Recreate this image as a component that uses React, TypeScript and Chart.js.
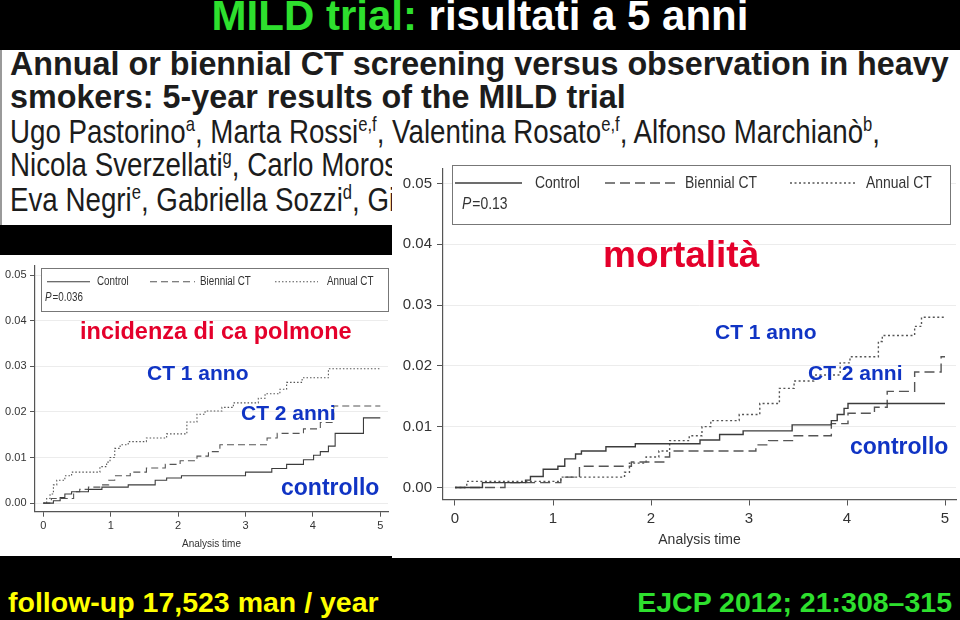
import React, { useEffect, useRef } from "react";
import { Chart, registerables } from "chart.js";

Chart.register(...registerables);

type Pt = [number, number];

// ---------- data ----------
const SERIES = ["Control", "Biennial CT", "Annual CT"];
const X_TICKS = [0, 1, 2, 3, 4, 5];
const Y_TICKS = [0, 0.01, 0.02, 0.03, 0.04, 0.05];
const X_TITLE = "Analysis time";

// lung cancer incidence (left panel)
const incidenceControl: Pt[] = [
  [0, 0], [0.15, 0.0005], [0.25, 0.0012], [0.32, 0.002], [0.42, 0.0025], [0.67, 0.003],
  [0.87, 0.0035], [1.26, 0.004], [1.66, 0.005], [1.83, 0.0055], [2.05, 0.006], [3.0, 0.0068],
  [3.39, 0.0076], [3.61, 0.0085], [3.86, 0.0095], [4.01, 0.0105], [4.11, 0.0113], [4.23, 0.0125],
  [4.33, 0.0153], [4.75, 0.0187], [5, 0.0187],
];
const incidenceBiennial: Pt[] = [
  [0, 0], [0.12, 0.001], [0.45, 0.0025], [0.54, 0.003], [0.67, 0.0035], [0.87, 0.004],
  [0.97, 0.005], [1.06, 0.006], [1.29, 0.0068], [1.53, 0.0077], [1.81, 0.0085], [2.03, 0.0093],
  [2.28, 0.0103], [2.45, 0.0113], [2.62, 0.0128], [3.32, 0.0143], [3.47, 0.0153], [3.86, 0.0163],
  [4.11, 0.0177], [4.31, 0.0213], [5, 0.0213],
];
const incidenceAnnual: Pt[] = [
  [0, 0], [0.05, 0.001], [0.1, 0.002], [0.15, 0.004], [0.2, 0.005], [0.32, 0.006], [0.42, 0.0068],
  [0.84, 0.008], [0.94, 0.009], [0.99, 0.01], [1.06, 0.012], [1.14, 0.0128], [1.26, 0.0135],
  [1.53, 0.0143], [1.83, 0.0152], [2.13, 0.0178], [2.28, 0.0195], [2.4, 0.0202], [2.65, 0.021],
  [2.82, 0.022], [3.19, 0.023], [3.29, 0.024], [3.51, 0.025], [3.61, 0.0265], [3.84, 0.0275],
  [4.23, 0.0295], [5, 0.0295],
];
const INCIDENCE_P = "0.036";

// lung cancer mortality (right panel)
const mortalityControl: Pt[] = [
  [0, 0], [0.28, 0.0008], [0.72, 0.0012], [0.77, 0.0018], [0.9, 0.003], [1.05, 0.0035],
  [1.12, 0.0047], [1.23, 0.0055], [1.29, 0.006], [1.54, 0.0067], [1.84, 0.0072], [2.5, 0.0078],
  [2.7, 0.0087], [2.94, 0.0093], [3.44, 0.0103], [3.84, 0.011], [3.9, 0.012], [3.97, 0.013],
  [4.01, 0.0138], [5, 0.0138],
];
const mortalityBiennial: Pt[] = [
  [0, 0], [0.51, 0.0008], [1.08, 0.0017], [1.27, 0.0035], [1.8, 0.0042], [2.13, 0.005],
  [2.19, 0.006], [3.07, 0.007], [3.2, 0.0077], [3.46, 0.0085], [3.84, 0.0105], [4.01, 0.0122],
  [4.28, 0.0132], [4.41, 0.0158], [4.69, 0.019], [4.96, 0.0215], [5, 0.0215],
];
const mortalityAnnual: Pt[] = [
  [0, 0], [0.12, 0.001], [1.08, 0.0017], [1.73, 0.0025], [1.78, 0.004], [1.95, 0.005],
  [2.08, 0.006], [2.19, 0.0077], [2.39, 0.0085], [2.52, 0.01], [2.61, 0.011], [2.9, 0.012],
  [3.11, 0.0138], [3.31, 0.0163], [3.46, 0.0175], [3.66, 0.0185], [3.93, 0.0205], [4.03, 0.0215],
  [4.32, 0.024], [4.36, 0.025], [4.69, 0.0265], [4.76, 0.028], [5, 0.028],
];
const MORTALITY_P = "0.13";

// ---------- styles ----------
const SANS = "'Liberation Sans', Arial, Helvetica, sans-serif";
const GREEN = "#2ee02e";
const RED = "#e4002b";
const BLUE = "#1034c4";

interface KMCfg {
  w: number; h: number; padTop: number; padRight: number;
  yAxisW: number; xAxisH: number;
  xMin: number; xMax: number; yMin: number; yMax: number;
  tickLen: number; tickFont: number; tickPadX: number; tickPadY: number;
  titleFont: number; titlePadBottom: number;
  lineWidth: number; dash: number[]; dot: number[];
  legend: { box: [number, number, number, number]; rowY: number; items: [number, number, number][]; pX: number; pY: number; font: number; squeeze: number };
}

const RIGHT_CFG: KMCfg = {
  w: 568, h: 403, padTop: 2, padRight: 4, yAxisW: 51, xAxisH: 58.5,
  xMin: -0.1224, xMax: 5.112, yMin: -0.00198, yMax: 0.05238,
  tickLen: 6, tickFont: 15, tickPadX: 4, tickPadY: 5,
  titleFont: 14, titlePadBottom: 9.5,
  lineWidth: 1.4, dash: [10, 5], dot: [2, 2.5],
  legend: { box: [60, 10, 498, 59], rowY: 28, items: [[63, 130, 143], [213, 283, 293], [398, 463, 474]], pX: 70, pY: 49, font: 17, squeeze: 0.82 },
};

const LEFT_CFG: KMCfg = {
  w: 392, h: 301, padTop: 8, padRight: 4, yAxisW: 35, xAxisH: 44.3,
  xMin: -0.123, xMax: 5.114, yMin: -0.00189, yMax: 0.05224,
  tickLen: 5, tickFont: 11, tickPadX: 3, tickPadY: 3.5,
  titleFont: 10, titlePadBottom: 6,
  lineWidth: 1.1, dash: [7, 4], dot: [1.5, 2],
  legend: { box: [41, 13.3, 347, 42.7], rowY: 26.7, items: [[47, 90, 97], [150, 195, 200], [275, 318, 327]], pX: 45, pY: 42.3, font: 12, squeeze: 0.82 },
};

function KMChart({ cfg, series, pValue }: { cfg: KMCfg; series: Pt[][]; pValue: string }) {
  const ref = useRef<HTMLCanvasElement>(null);
  useEffect(() => {
    const canvas = ref.current;
    if (!canvas) return;
    const styles = [
      { color: "#3c3c3c", dash: [] as number[] },
      { color: "#555555", dash: cfg.dash },
      { color: "#555555", dash: cfg.dot },
    ];
    const lg = cfg.legend;
    const legendPlugin = {
      id: "stataLegend",
      afterDatasetsDraw(chart: any) {
        const ctx: CanvasRenderingContext2D = chart.ctx;
        const [bx, by, bw, bh] = lg.box;
        ctx.save();
        ctx.fillStyle = "#ffffff";
        ctx.fillRect(bx, by, bw, bh);
        ctx.strokeStyle = "#777777";
        ctx.lineWidth = 1;
        ctx.strokeRect(Math.round(bx) + 0.5, Math.round(by) + 0.5, Math.round(bw), Math.round(bh));
        const font = `${lg.font}px ${SANS}`;
        const squeezedText = (txt: string, x: number, y: number, f: string) => {
          ctx.save();
          ctx.translate(x, y);
          ctx.scale(lg.squeeze, 1);
          ctx.font = f;
          ctx.fillText(txt, 0, 0);
          const w = ctx.measureText(txt).width * lg.squeeze;
          ctx.restore();
          return w;
        };
        chart.data.datasets.forEach((ds: any, i: number) => {
          const [x0, x1, tx] = lg.items[i];
          ctx.beginPath();
          ctx.setLineDash(ds.borderDash || []);
          ctx.strokeStyle = ds.borderColor;
          ctx.lineWidth = ds.borderWidth;
          ctx.moveTo(x0, lg.rowY);
          ctx.lineTo(x1, lg.rowY);
          ctx.stroke();
          ctx.setLineDash([]);
          ctx.fillStyle = "#333333";
          ctx.textBaseline = "middle";
          squeezedText(ds.label, tx, lg.rowY, font);
        });
        ctx.fillStyle = "#333333";
        ctx.textBaseline = "middle";
        const pw = squeezedText("P", lg.pX, lg.pY, `italic ${font}`);
        squeezedText(`=${pValue}`, lg.pX + pw + 1, lg.pY, font);
        ctx.restore();
      },
    };
    const chart = new Chart(canvas, {
      type: "line",
      data: {
        datasets: series.map((pts, i) => ({
          label: SERIES[i],
          data: pts.map(([x, y]) => ({ x, y })),
          borderColor: styles[i].color,
          borderDash: styles[i].dash,
          borderWidth: cfg.lineWidth,
          pointRadius: 0,
          stepped: "before" as const,
          fill: false,
          tension: 0,
        })),
      },
      options: {
        animation: false,
        responsive: false,
        events: [],
        layout: { padding: { top: cfg.padTop, right: cfg.padRight, left: 0, bottom: 0 } },
        plugins: { legend: { display: false }, tooltip: { enabled: false }, title: { display: false } },
        scales: {
          x: {
            type: "linear",
            min: cfg.xMin,
            max: cfg.xMax,
            afterBuildTicks: (s: any) => { s.ticks = X_TICKS.map((v) => ({ value: v })); },
            afterFit: (s: any) => { s.height = cfg.xAxisH; },
            grid: { drawOnChartArea: false, drawTicks: true, tickLength: cfg.tickLen, tickColor: "#555555", tickWidth: 1 },
            border: { color: "#555555", width: 1.2 },
            ticks: {
              color: "#333333",
              font: { family: SANS, size: cfg.tickFont },
              padding: cfg.tickPadX,
              maxRotation: 0,
              autoSkip: false,
              callback: (v: any) => String(Math.round(Number(v))),
            },
            title: {
              display: true,
              text: X_TITLE,
              color: "#333333",
              font: { family: SANS, size: cfg.titleFont },
              padding: { top: 0, bottom: cfg.titlePadBottom },
            },
          },
          y: {
            type: "linear",
            min: cfg.yMin,
            max: cfg.yMax,
            afterBuildTicks: (s: any) => { s.ticks = Y_TICKS.map((v) => ({ value: v })); },
            afterFit: (s: any) => { s.width = cfg.yAxisW; },
            grid: { color: "#ececec", lineWidth: 1, drawTicks: true, tickLength: cfg.tickLen, tickColor: "#555555", tickWidth: 1 },
            border: { color: "#555555", width: 1.2 },
            ticks: {
              color: "#333333",
              font: { family: SANS, size: cfg.tickFont },
              padding: cfg.tickPadY,
              autoSkip: false,
              callback: (v: any) => Number(v).toFixed(2),
            },
          },
        },
      },
      plugins: [legendPlugin],
    } as any);
    return () => chart.destroy();
  }, []);
  return <canvas ref={ref} width={cfg.w} height={cfg.h} style={{ display: "block", width: cfg.w, height: cfg.h }} />;
}

function Txt(props: {
  x?: number; right?: number; base: number; size: number; color: string; bold?: boolean;
  children: React.ReactNode; center?: boolean; sx?: number;
}) {
  const { x, right, base, size, color, bold, children, center, sx } = props;
  const style: React.CSSProperties = {
    position: "absolute",
    top: base - 0.905 * size,
    fontSize: size,
    lineHeight: `${(1.117 * size).toFixed(2)}px`,
    color,
    fontWeight: bold ? 700 : 400,
    fontFamily: SANS,
    whiteSpace: "nowrap",
  };
  if (center) { style.left = 0; style.width = 960; style.textAlign = "center"; }
  else if (right !== undefined) style.right = right;
  else style.left = x;
  if (sx) { style.transform = `scaleX(${sx})`; style.transformOrigin = "left center"; }
  return <div style={style}>{children}</div>;
}

const Sup = ({ c }: { c: string }) => (
  <span style={{ fontSize: "0.6em", position: "relative", top: "-0.6em" }}>{c}</span>
);

export default function App() {
  return (
    <div style={{ position: "fixed", left: 0, top: 0, width: 960, height: 620, background: "#000", overflow: "hidden", fontFamily: SANS }}>
      {/* slide title */}
      <Txt center base={31} size={42} color="#fff" bold>
        <span style={{ color: GREEN }}>MILD trial:</span> <span style={{ color: "#fff" }}>risultati a 5 anni</span>
      </Txt>

      {/* paper header */}
      <div style={{ position: "absolute", left: 0, top: 50, width: 960, height: 175, background: "#fff", borderLeft: "2px solid #9a9a9a", boxSizing: "border-box" }} />
      <Txt x={10} base={75.5} size={32.3} color="#1c1c1c" bold>
        Annual or biennial CT screening versus observation in heavy
      </Txt>
      <Txt x={10} base={108.5} size={32.3} color="#1c1c1c" bold>
        smokers: 5-year results of the MILD trial
      </Txt>
      <Txt x={10} base={144} size={33} color="#1c1c1c" sx={0.84}>
        Ugo Pastorino<Sup c="a" />, Marta Rossi<Sup c="e,f" />, Valentina Rosato<Sup c="e,f" />, Alfonso Marchianò<Sup c="b" />,
      </Txt>
      <div style={{ position: "absolute", left: 0, top: 0, width: 392, height: 225, overflow: "hidden" }}>
        <Txt x={10} base={177} size={33} color="#1c1c1c" sx={0.84}>
          Nicola Sverzellati<Sup c="g" />, Carlo Moros
        </Txt>
        <Txt x={10} base={212} size={33} color="#1c1c1c" sx={0.84}>
          Eva Negri<Sup c="e" />, Gabriella Sozzi<Sup c="d" />, Gi
        </Txt>
      </div>

      {/* left panel: incidence */}
      <div style={{ position: "absolute", left: 0, top: 255, width: 392, height: 301, background: "#fff" }}>
        <KMChart cfg={LEFT_CFG} series={[incidenceControl, incidenceBiennial, incidenceAnnual]} pValue={INCIDENCE_P} />
      </div>

      {/* right panel: mortality */}
      <div style={{ position: "absolute", left: 392, top: 155, width: 568, height: 403, background: "#fff" }}>
        <KMChart cfg={RIGHT_CFG} series={[mortalityControl, mortalityBiennial, mortalityAnnual]} pValue={MORTALITY_P} />
      </div>

      {/* annotations */}
      <Txt x={80} base={339} size={23.5} color={RED} bold>incidenza di ca polmone</Txt>
      <Txt x={147} base={380} size={21} color={BLUE} bold>CT 1 anno</Txt>
      <Txt x={241} base={420} size={21} color={BLUE} bold>CT 2 anni</Txt>
      <Txt x={281} base={496} size={23} color={BLUE} bold>controllo</Txt>

      <Txt x={603} base={267} size={37} color={RED} bold>mortalità</Txt>
      <Txt x={715} base={339} size={21} color={BLUE} bold>CT 1 anno</Txt>
      <Txt x={808} base={380} size={21} color={BLUE} bold>CT 2 anni</Txt>
      <Txt x={850} base={455} size={23} color={BLUE} bold>controllo</Txt>

      {/* footer */}
      <Txt x={8} base={613} size={28.5} color="#ffff00" bold>follow-up 17,523 man / year</Txt>
      <Txt right={8} base={613} size={28.5} color={GREEN} bold>EJCP 2012; 21:308–315</Txt>
    </div>
  );
}
